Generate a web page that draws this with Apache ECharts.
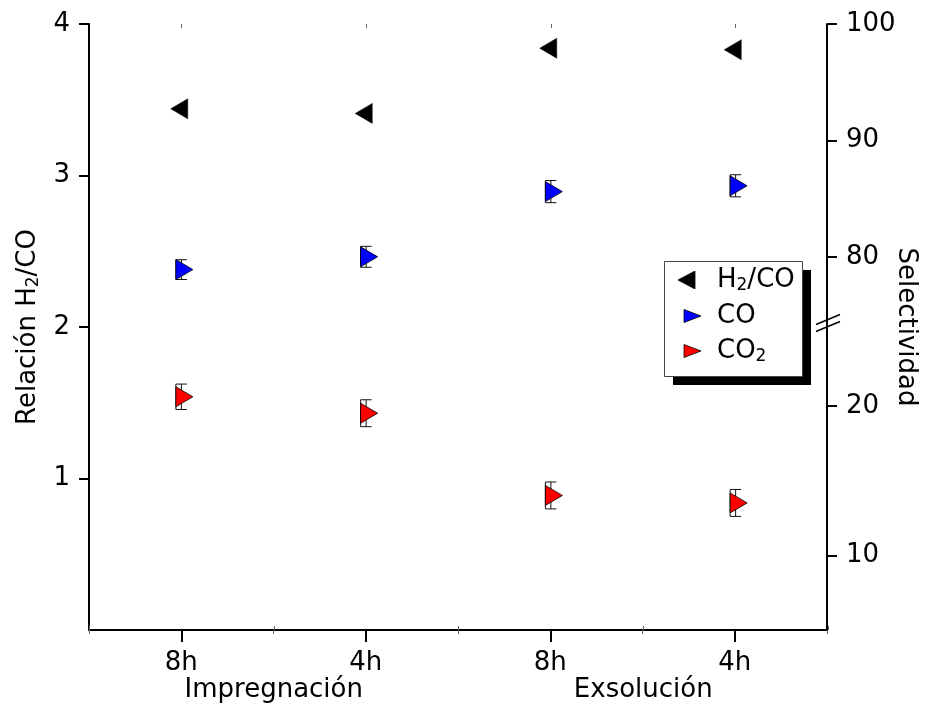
<!DOCTYPE html>
<html>
<head>
<meta charset="utf-8">
<script src="https://cdn.jsdelivr.net/npm/echarts@6/dist/echarts.min.js"></script>
<style>
html,body{margin:0;padding:0;background:#fff;}
#chart{width:927px;height:722px;}
</style>
</head>
<body>
<div id="chart"></div>
<script>
// ---------------- data ----------------
const categories = ['8h', '4h', '8h', '4h'];
const groups = ['Impregnación', 'Exsolución'];
const h2coRatio = [3.44, 3.41, 3.84, 3.83];
const coSelectivity = [78.9, 80.0, 85.6, 86.1];
const coError = [0.85, 0.9, 0.95, 0.95];
const co2Selectivity = [20.6, 19.5, 14.0, 13.5];
const co2Error = [0.85, 0.9, 0.9, 0.9];
const leftTicks = [1, 2, 3, 4];
const upperRightTicks = [80, 90, 100];
const lowerRightTicks = [10, 20];
const upperRange = [75, 100];
const lowerRange = [5, 25];
const leftRange = [0, 4];

// ---------------- layout / style ----------------
const FONT = "'DejaVu Sans', sans-serif";
const FS = 26;
const G = {left: 89, top: 24, width: 739, height: 606};
const UPPER = {left: G.left, top: G.top, width: G.width, height: 291};
const LOWER = {left: G.left, top: 331, width: G.width, height: G.top + G.height - 331};
const LEG = {left: 664, top: 261, width: 138, height: 115, shadow: 9};

const chart = echarts.init(document.getElementById('chart'), null, {renderer: 'canvas'});

const rich = {
  a: {fontSize: FS, fontFamily: FONT, color: '#000', lineHeight: 28, verticalAlign: 'middle'},
  s: {fontSize: 17, fontFamily: FONT, color: '#000', lineHeight: 14, verticalAlign: 'bottom'}
};

function svgIcon(points, fill) {
  const svg = "<svg xmlns='http://www.w3.org/2000/svg' width='34' height='18' viewBox='0 0 34 18'>" +
    "<polygon points='" + points + "' fill='" + fill + "' stroke='#000' stroke-width='0.8'/></svg>";
  return 'image://data:image/svg+xml;charset=utf-8,' + encodeURIComponent(svg);
}

const RIGHT_TRI = 'path://M0,0 L10,5 L0,10 Z';
const LEFT_TRI = 'path://M10,0 L0,5 L10,10 Z';

function errorRenderer(params, api) {
  const lo = api.coord([api.value(0), api.value(1)]);
  const hi = api.coord([api.value(0), api.value(2)]);
  const cx = lo[0];
  const xl = cx - 5.5, xr = cx + 5.5;
  const st = {stroke: '#111', lineWidth: 1};
  return {
    type: 'group',
    children: [
      {type: 'line', shape: {x1: xl, y1: lo[1], x2: xl, y2: hi[1]}, style: st},
      {type: 'line', shape: {x1: cx, y1: lo[1], x2: cx, y2: hi[1]}, style: st},
      {type: 'line', shape: {x1: xl, y1: lo[1], x2: xr, y2: lo[1]}, style: st},
      {type: 'line', shape: {x1: xl, y1: hi[1], x2: xr, y2: hi[1]}, style: st}
    ]
  };
}

const hiddenY = (gridIndex) => ({type: 'value', gridIndex: gridIndex, show: false, min: 0, max: 1, splitLine: {show: false}});
const hiddenX = (gridIndex) => ({type: 'category', gridIndex: gridIndex, data: categories, show: false});

const option = {
  backgroundColor: '#fff',
  animation: false,
  textStyle: {fontFamily: FONT},
  grid: [
    Object.assign({}, G),        // 0 main
    Object.assign({}, UPPER),    // 1 upper right segment
    Object.assign({}, LOWER),    // 2 lower right segment
    Object.assign({}, G),        // 3 group labels / top centre ticks
    Object.assign({}, G)         // 4 bottom boundary ticks
  ],
  xAxis: [
    { // 0 main bottom
      type: 'category', gridIndex: 0, position: 'bottom', data: categories,
      axisLine: {show: true, lineStyle: {color: '#000', width: 2}},
      axisTick: {show: true, alignWithLabel: true, length: 12, lineStyle: {color: '#000', width: 2}},
      axisLabel: {show: true, color: '#000', fontSize: FS, fontFamily: FONT, margin: 20, interval: 0},
      splitLine: {show: false}
    },
    { // 1 top border
      type: 'category', gridIndex: 0, position: 'top', data: categories,
      axisLine: {show: true, lineStyle: {color: '#000', width: 2}},
      axisTick: {show: true, inside: true, length: 4, lineStyle: {color: '#666', width: 1}},
      axisLabel: {show: false}, splitLine: {show: false}
    },
    { // 2 group labels
      type: 'category', gridIndex: 3, position: 'bottom', data: groups,
      axisLine: {show: false}, axisTick: {show: false},
      axisLabel: {show: true, color: '#000', fontSize: FS, fontFamily: FONT, margin: 47, interval: 0},
      splitLine: {show: false}
    },
    { // 3 top centre ticks
      type: 'category', gridIndex: 3, position: 'top', data: categories,
      axisLine: {show: false},
      axisTick: {show: true, inside: true, alignWithLabel: true, length: 4, lineStyle: {color: '#666', width: 1}},
      axisLabel: {show: false}, splitLine: {show: false}
    },
    { // 4 bottom boundary minor ticks
      type: 'category', gridIndex: 4, position: 'bottom', data: categories,
      axisLine: {show: false},
      axisTick: {show: true, inside: true, length: 4, lineStyle: {color: '#666', width: 1}},
      axisLabel: {show: false}, splitLine: {show: false}
    },
    hiddenX(1), // 5
    hiddenX(2)  // 6
  ],
  yAxis: [
    { // 0 left H2/CO
      type: 'value', gridIndex: 0, position: 'left', min: leftRange[0], max: leftRange[1], interval: 1,
      name: '{a|Relación H}{s|2}{a|/CO}', nameLocation: 'middle', nameGap: 40,
      nameTextStyle: {rich: rich},
      axisLine: {show: true, lineStyle: {color: '#000', width: 2}},
      axisTick: {show: true, length: 10, customValues: leftTicks, lineStyle: {color: '#000', width: 2}},
      axisLabel: {show: true, customValues: leftTicks, color: '#000', fontSize: FS, fontFamily: FONT, margin: 19},
      splitLine: {show: false}
    },
    { // 1 right full axis line + name
      type: 'value', gridIndex: 0, position: 'right', min: 0, max: 1,
      name: 'Selectividad', nameLocation: 'middle', nameGap: 66, nameRotate: -90,
      nameTextStyle: {color: '#000', fontSize: FS, fontFamily: FONT},
      axisLine: {show: true, lineStyle: {color: '#000', width: 2}},
      axisTick: {show: false}, axisLabel: {show: false}, splitLine: {show: false}
    },
    { // 2 upper right segment
      type: 'value', gridIndex: 1, position: 'right', min: upperRange[0], max: upperRange[1],
      axisLine: {show: false},
      axisTick: {show: true, length: 9, customValues: upperRightTicks, lineStyle: {color: '#000', width: 2}},
      axisLabel: {show: true, customValues: upperRightTicks, color: '#000', fontSize: FS, fontFamily: FONT, margin: 18},
      splitLine: {show: false}
    },
    { // 3 lower right segment
      type: 'value', gridIndex: 2, position: 'right', min: lowerRange[0], max: lowerRange[1],
      axisLine: {show: false},
      axisTick: {show: true, length: 9, customValues: lowerRightTicks, lineStyle: {color: '#000', width: 2}},
      axisLabel: {show: true, customValues: lowerRightTicks, color: '#000', fontSize: FS, fontFamily: FONT, margin: 18},
      splitLine: {show: false}
    },
    hiddenY(3), // 4
    hiddenY(4)  // 5
  ],
  legend: {
    z: 50, zlevel: 0,
    orient: 'vertical', left: LEG.left, top: LEG.top,
    itemWidth: 34, itemHeight: 18, itemGap: 9,
    padding: [6, 7, 11, 14],
    backgroundColor: 'rgba(0,0,0,0)', borderWidth: 0,
    selectedMode: false,
    data: [
      {name: 'H2/CO', icon: svgIcon('17,0 0,9 17,18', '#000')},
      {name: 'CO', icon: svgIcon('6,2.5 23,9 6,15.5', '#0000ff')},
      {name: 'CO2', icon: svgIcon('6,2.5 23,9 6,15.5', '#ff0000')}
    ],
    formatter: function (name) {
      if (name === 'H2/CO') return '{a|H}{s|2}{a|/CO}';
      if (name === 'CO2') return '{a|CO}{s|2}';
      return '{a|CO}';
    },
    textStyle: {rich: rich}
  },
  series: [
    {
      name: 'CO err', type: 'custom', xAxisIndex: 5, yAxisIndex: 2, z: 2,
      renderItem: errorRenderer,
      data: coSelectivity.map((v, i) => [i, v - coError[i], v + coError[i]])
    },
    {
      name: 'CO2 err', type: 'custom', xAxisIndex: 6, yAxisIndex: 3, z: 2,
      renderItem: errorRenderer,
      data: co2Selectivity.map((v, i) => [i, v - co2Error[i], v + co2Error[i]])
    },
    {
      name: 'H2/CO', type: 'scatter', xAxisIndex: 0, yAxisIndex: 0, z: 3,
      symbol: LEFT_TRI, symbolSize: [17, 20], symbolOffset: [-2, 0],
      itemStyle: {color: '#000', borderColor: '#000', borderWidth: 0.5, opacity: 1},
      data: h2coRatio.map((v, i) => [i, v])
    },
    {
      name: 'CO', type: 'scatter', xAxisIndex: 5, yAxisIndex: 2, z: 3,
      symbol: RIGHT_TRI, symbolSize: [17, 20], symbolOffset: [3, 0],
      itemStyle: {color: '#0000ff', borderColor: '#000', borderWidth: 0.8, opacity: 1},
      data: coSelectivity.map((v, i) => [i, v])
    },
    {
      name: 'CO2', type: 'scatter', xAxisIndex: 6, yAxisIndex: 3, z: 3,
      symbol: RIGHT_TRI, symbolSize: [17, 20], symbolOffset: [3, 0],
      itemStyle: {color: '#ff0000', borderColor: '#000', borderWidth: 0.8, opacity: 1},
      data: co2Selectivity.map((v, i) => [i, v])
    }
  ]
};

chart.setOption(option);

// axis break mark on the right axis (placed from the two segment axes) and legend frame
const xR = G.left + G.width;
const yA = chart.convertToPixel({yAxisIndex: 2}, upperRange[0]);
const yB = chart.convertToPixel({yAxisIndex: 3}, lowerRange[1]);
const mid = (yA + yB) / 2;
chart.setOption({
  graphic: {
    elements: [
      {
        id: 'legShadow', type: 'rect', z: 5, silent: true,
        shape: {x: LEG.left + LEG.shadow, y: LEG.top + LEG.shadow, width: LEG.width, height: LEG.height},
        style: {fill: '#000'}
      },
      {
        id: 'legFrame', type: 'rect', z: 6, silent: true,
        shape: {x: LEG.left + 0.5, y: LEG.top + 0.5, width: LEG.width, height: LEG.height},
        style: {fill: '#fff', stroke: '#444', lineWidth: 1}
      },
      {id: 'brk1', type: 'line', z: 10, shape: {x1: xR - 12, y1: mid - 3.5 + 5, x2: xR + 12, y2: mid - 3.5 - 5}, style: {stroke: '#000', lineWidth: 1.5}},
      {id: 'brk2', type: 'line', z: 10, shape: {x1: xR - 12, y1: mid + 3.5 + 5, x2: xR + 12, y2: mid + 3.5 - 5}, style: {stroke: '#000', lineWidth: 1.5}}
    ]
  }
});
</script>
</body>
</html>
